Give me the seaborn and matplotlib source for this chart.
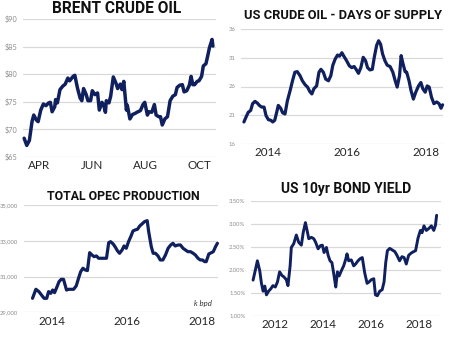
import matplotlib
matplotlib.use("Agg")
import matplotlib.pyplot as plt
import seaborn as sns

# ---- Brent crude oil, 2018 (x = day of year, y = $/bbl) ----
brent_day = [74, 77, 80, 83, 85, 88, 90, 93, 96, 99, 102, 104, 106, 109, 110, 112,
             115, 118, 121, 124, 126, 130, 132, 135, 138, 140, 142, 145, 147, 150,
             152, 155, 158, 160, 163, 165, 167, 168, 171, 173, 176, 179, 181, 184,
             186, 188, 191, 192, 195, 198, 201, 203, 207, 210, 212, 215, 217, 220,
             223, 225, 228, 230, 232, 235, 238, 241, 244, 247, 249, 252, 255, 257,
             260, 263, 265, 267, 269, 272, 274, 277, 279, 282, 284, 286, 289, 290]
brent_usd = [68.4, 67.1, 68.0, 71.4, 72.6, 71.7, 71.4, 73.5, 74.6, 74.3, 74.8, 74.9,
             73.2, 74.1, 75.4, 74.8, 77.2, 77.8, 78.2, 79.3, 78.8, 79.6, 79.8, 77.5,
             75.7, 75.2, 77.4, 76.3, 75.2, 75.2, 77.0, 76.3, 76.6, 73.5, 74.9, 74.4,
             73.1, 75.2, 74.8, 76.0, 79.5, 78.4, 77.4, 78.2, 77.2, 78.7, 73.5, 74.4,
             71.9, 72.7, 72.9, 73.1, 73.4, 74.5, 74.9, 72.6, 73.2, 73.1, 74.5, 72.6,
             72.3, 72.3, 70.8, 71.9, 72.3, 75.2, 76.0, 76.3, 77.6, 78.0, 78.1, 76.8,
             77.0, 78.0, 79.6, 78.1, 78.1, 78.7, 78.8, 79.6, 81.5, 81.9, 83.3, 84.8,
             86.3, 85.1]
brent_ticks = ["$65", "$70", "$75", "$80", "$85", "$90"]
brent_months = ["APR", "JUN", "AUG", "OCT"]
brent_month_doy = [91, 152, 213, 274]

# ---- US crude oil, days of supply ----
supply_year = [2013.39, 2013.44, 2013.50, 2013.56, 2013.61, 2013.67, 2013.73, 2013.78,
               2013.84, 2013.90, 2013.95, 2014.01, 2014.07, 2014.12, 2014.17, 2014.22,
               2014.26, 2014.32, 2014.37, 2014.43, 2014.49, 2014.56, 2014.62, 2014.68,
               2014.74, 2014.81, 2014.87, 2014.94, 2015.00, 2015.06, 2015.11, 2015.16,
               2015.23, 2015.29, 2015.34, 2015.40, 2015.46, 2015.53, 2015.59, 2015.64,
               2015.70, 2015.76, 2015.81, 2015.87, 2015.92, 2015.99, 2016.06, 2016.12,
               2016.18, 2016.23, 2016.29, 2016.35, 2016.41, 2016.47, 2016.52, 2016.58,
               2016.64, 2016.69, 2016.75, 2016.80, 2016.85, 2016.90, 2016.96, 2017.02,
               2017.09, 2017.16, 2017.22, 2017.27, 2017.33, 2017.37, 2017.41, 2017.47,
               2017.51, 2017.57, 2017.62, 2017.68, 2017.74, 2017.81, 2017.87, 2017.92,
               2017.98, 2018.03, 2018.08, 2018.14, 2018.20, 2018.27, 2018.33, 2018.38,
               2018.42]
supply_days = [19.8, 20.6, 21.5, 21.8, 23.0, 23.4, 23.1, 22.7, 22.4, 22.4, 20.9, 20.2,
               20.1, 19.8, 20.1, 21.5, 22.7, 22.2, 21.4, 21.2, 23.5, 25.3, 27.0, 28.5,
               28.6, 27.9, 27.0, 26.3, 25.9, 25.1, 24.7, 25.6, 26.1, 28.5, 29.0, 28.5,
               27.3, 27.0, 27.9, 29.7, 30.8, 31.5, 31.3, 31.9, 31.3, 30.5, 29.6, 29.3,
               29.5, 29.0, 28.3, 29.3, 31.1, 30.5, 29.3, 28.9, 29.0, 31.1, 33.2, 34.0,
               33.4, 31.7, 30.5, 29.7, 29.5, 28.5, 27.0, 25.9, 27.9, 31.4, 30.2, 28.6,
               28.5, 27.0, 25.3, 23.8, 25.0, 26.1, 26.7, 25.6, 25.0, 26.1, 25.9, 24.1,
               23.0, 23.3, 23.0, 22.2, 22.8]
supply_ticks = [16, 21, 26, 31, 36]
supply_years = [2014, 2016, 2018]

# ---- Total OPEC production, thousand barrels per day ----
opec_year = [2013.47, 2013.56, 2013.64, 2013.71, 2013.78, 2013.85, 2013.90, 2013.96,
             2014.01, 2014.06, 2014.12, 2014.18, 2014.24, 2014.30, 2014.38, 2014.44,
             2014.51, 2014.57, 2014.64, 2014.71, 2014.76, 2014.82, 2014.88, 2014.94,
             2015.00, 2015.06, 2015.12, 2015.18, 2015.24, 2015.31, 2015.38, 2015.45,
             2015.51, 2015.56, 2015.63, 2015.69, 2015.74, 2015.80, 2015.87, 2015.92,
             2015.98, 2016.04, 2016.10, 2016.16, 2016.22, 2016.28, 2016.34, 2016.40,
             2016.47, 2016.54, 2016.58, 2016.65, 2016.70, 2016.76, 2016.83, 2016.89,
             2016.96, 2017.03, 2017.10, 2017.17, 2017.23, 2017.29, 2017.37, 2017.43,
             2017.50, 2017.56, 2017.63, 2017.70, 2017.77, 2017.83, 2017.90, 2017.96,
             2018.02, 2018.08, 2018.12, 2018.19, 2018.26, 2018.31, 2018.37, 2018.42]
opec_kbpd = [29785, 30290, 30160, 29970, 29785, 29785, 30160, 30065, 30250, 30100,
             30400, 30720, 30850, 30850, 30250, 30290, 30290, 30290, 30480, 30960,
             31280, 31470, 31375, 31340, 32345, 32215, 32120, 32160, 32030, 32030,
             32030, 32030, 32905, 32960, 32830, 32645, 32460, 32310, 32500, 32720,
             32590, 32960, 33240, 33560, 33620, 33655, 33840, 33950, 34085, 34140,
             33525, 32680, 32310, 32310, 32160, 31935, 31935, 32215, 32590, 32775,
             32870, 32720, 32775, 32775, 32590, 32500, 32400, 32400, 32310, 32215,
             32030, 31935, 31935, 31840, 31840, 32270, 32345, 32400, 32680, 32870]
opec_ticks = [29000, 31000, 33000, 35000]
opec_years = [2014, 2016, 2018]

# ---- US 10-year Treasury yield, % ----
bond_year = [2011.07, 2011.17, 2011.25, 2011.35, 2011.42, 2011.49, 2011.56, 2011.63,
             2011.72, 2011.81, 2011.90, 2012.00, 2012.09, 2012.18, 2012.28, 2012.36,
             2012.46, 2012.53, 2012.62, 2012.67, 2012.77, 2012.88, 2012.98, 2013.09,
             2013.17, 2013.26, 2013.33, 2013.40, 2013.51, 2013.61, 2013.69, 2013.79,
             2013.89, 2013.97, 2014.04, 2014.14, 2014.21, 2014.29, 2014.37, 2014.46,
             2014.53, 2014.60, 2014.67, 2014.76, 2014.86, 2014.95, 2015.00, 2015.07,
             2015.18, 2015.28, 2015.36, 2015.46, 2015.56, 2015.64, 2015.74, 2015.84,
             2015.92, 2016.02, 2016.12, 2016.19, 2016.27, 2016.37, 2016.47, 2016.55,
             2016.62, 2016.69, 2016.79, 2016.88, 2017.00, 2017.09, 2017.20, 2017.30,
             2017.39, 2017.48, 2017.58, 2017.69, 2017.79, 2017.87, 2017.97, 2018.07,
             2018.14, 2018.22, 2018.32, 2018.42, 2018.53, 2018.63, 2018.70, 2018.75]
bond_pct = [1.78, 2.01, 2.20, 1.98, 1.71, 1.54, 1.65, 1.46, 1.54, 1.59, 1.66, 1.63,
            1.74, 1.96, 1.88, 1.85, 1.79, 1.66, 2.09, 2.49, 2.57, 2.76, 2.60, 2.54,
            2.82, 3.03, 2.86, 2.68, 2.71, 2.68, 2.60, 2.46, 2.53, 2.54, 2.38, 2.49,
            2.32, 2.20, 2.16, 1.87, 1.63, 1.96, 1.87, 1.98, 2.09, 2.24, 2.35, 2.20,
            2.22, 2.09, 2.13, 2.20, 2.25, 2.27, 1.94, 1.71, 1.74, 1.79, 1.81, 1.46,
            1.44, 1.54, 1.57, 1.74, 2.16, 2.42, 2.47, 2.44, 2.40, 2.32, 2.20, 2.29,
            2.27, 2.13, 2.32, 2.37, 2.40, 2.42, 2.69, 2.86, 2.81, 2.96, 2.86, 2.90,
            2.96, 2.86, 2.97, 3.19]
bond_ticks = [1.0, 1.5, 2.0, 2.5, 3.0, 3.5]
bond_years = [2012, 2014, 2016, 2018]

NAVY = "#10205e"
GRID = "#d9d9d9"
TICK_GREY = "#8c8c8c"
LABEL_DARK = "#262626"

sns.set_theme(style="white")
plt.rcParams["font.family"] = ["Lato", "DejaVu Sans"]

W, H = 455, 342
fig = plt.figure(figsize=(W / 100, H / 100), dpi=100)
renderer = fig.canvas.get_renderer()


def panel(left, top, right, bottom):
    """Axes placed by pixel edges measured from the top-left corner."""
    return fig.add_axes([left / W, 1 - bottom / H, (right - left) / W, (bottom - top) / H])


def title(text, cx, cy, width_px, base=10.6, largest=11.2, smallest=8.8):
    """Bold panel heading sized to span the given width."""
    t = fig.text(cx / W, 1 - cy / H, text, ha="center", va="center",
                 fontsize=base, fontweight="bold", color="#111111",
                 family=["Roboto", "DejaVu Sans"])
    w = t.get_window_extent(renderer).width
    t.set_fontsize(min(largest, max(smallest, base * width_px / w)))
    return t


def style(ax, yticks, ylabels, xticks, xlabels, ysize, xsize):
    ax.set_yticks(yticks)
    ax.set_yticklabels(ylabels)
    ax.set_xticks(xticks)
    ax.set_xticklabels(xlabels)
    ax.tick_params(axis="y", length=0, pad=4, labelsize=ysize, labelcolor=TICK_GREY)
    ax.tick_params(axis="x", length=0, pad=2.5, labelsize=xsize, labelcolor=LABEL_DARK)
    ax.grid(axis="y", color=GRID, linewidth=0.9)
    ax.grid(axis="x", visible=False)
    for s in ax.spines.values():
        s.set_visible(False)
    ax.set_xlabel("")
    ax.set_ylabel("")


def draw(ax, x, y, lw=2.3):
    sns.lineplot(x=x, y=y, ax=ax, color=NAVY, linewidth=lw, estimator=None, sort=False)
    for ln in ax.lines:
        ln.set_clip_on(False)
        ln.set_solid_joinstyle("round")
        ln.set_solid_capstyle("round")


# Brent crude oil
ax1 = panel(23, 19, 216, 157)
draw(ax1, brent_day, brent_usd, lw=2.5)
ax1.set_xlim(72.7, 293.5)
ax1.set_ylim(65, 90)
style(ax1, [65, 70, 75, 80, 85, 90], brent_ticks, brent_month_doy, brent_months, 5.2, 8.4)
title("BRENT CRUDE OIL", 116.7, 8.5, 132)

# US crude oil days of supply
ax2 = panel(241, 29.3, 443, 143.7)
draw(ax2, supply_year, supply_days)
ax2.set_xlim(2013.316, 2018.43)
ax2.set_ylim(16, 36)
style(ax2, supply_ticks, [str(v) for v in supply_ticks], supply_years,
      [str(v) for v in supply_years], 4.2, 8.4)
title("US CRUDE OIL - DAYS OF SUPPLY", 343, 15.3, 199)

# Total OPEC production
ax3 = panel(24, 205.3, 218, 312.3)
draw(ax3, opec_year, opec_kbpd)
ax3.set_xlim(2013.242, 2018.436)
ax3.set_ylim(29000, 35000)
style(ax3, opec_ticks, [f"{v:,}" for v in opec_ticks], opec_years,
      [str(v) for v in opec_years], 4.2, 8.4)
title("TOTAL OPEC PRODUCTION", 123.5, 196.7, 153)
ax3.text(0.97, 0.085, "k bpd", transform=ax3.transAxes, ha="right", va="center",
         fontsize=5.6, fontstyle="italic", color="#333333")

# US 10yr bond yield
ax4 = panel(251, 201, 441, 316)
draw(ax4, bond_year, bond_pct, lw=2.1)
ax4.set_xlim(2010.983, 2018.933)
ax4.set_ylim(1.0, 3.5)
style(ax4, bond_ticks, [f"{v:.2f}%" for v in bond_ticks], bond_years,
      [str(v) for v in bond_years], 4.2, 8.4)
title("US 10yr BOND YIELD", 346, 189, 130)

fig.savefig("out.png", dpi=100, facecolor="white")
